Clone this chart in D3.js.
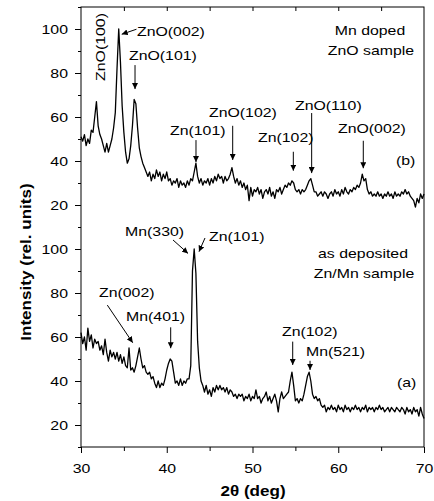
<!DOCTYPE html>
<html>
<head>
<meta charset="utf-8">
<script src="https://cdn.jsdelivr.net/npm/d3@7"></script>
<style>
  body { margin: 0; background: #fff; }
  text { font-family: "Liberation Sans", Arial, sans-serif; fill: #000; }
</style>
</head>
<body>
<svg id="chart"></svg>
<script>
// XRD scans, 2theta from 30 to 70 deg, one reading every 0.2 deg
const scanStart = 30;
const scanStep = 0.2;

// (b) Mn doped ZnO sample
const intensityB = [
  51, 49, 52, 47, 50, 48, 54, 53, 60, 67,
  56, 52, 50, 47, 44, 48, 44, 47, 50, 55,
  62, 82, 100, 85, 65, 53, 44, 39, 41, 47,
  56, 68, 66, 55, 46, 42, 39, 37, 35, 33,
  35, 31, 34, 32, 36, 33, 35, 31, 34, 32,
  35, 31, 32, 29, 31, 30, 32, 28, 31, 29,
  30, 28, 31, 29, 32, 31, 35, 39, 33, 30,
  32, 29, 31, 30, 32, 29, 32, 30, 33, 31,
  34, 32, 33, 30, 33, 31, 32, 34, 37, 33,
  30, 32, 29, 31, 28, 30, 27, 29, 22, 28,
  24, 27, 26, 28, 25, 27, 23, 26, 27, 25,
  28, 24, 26, 23, 27, 26, 28, 25, 27, 29,
  28, 30, 29, 31, 30, 27, 26, 27, 25, 27,
  26, 27, 29, 31, 32, 29, 26, 26, 24, 25,
  26, 24, 26, 25, 23, 25, 26, 24, 27, 25,
  26, 24, 27, 25, 28, 26, 25, 27, 26, 28,
  27, 29, 28, 30, 34, 31, 32, 27, 25, 26,
  24, 25, 24, 26, 24, 25, 23, 25, 24, 26,
  24, 25, 23, 26, 24, 25, 24, 26, 25, 27,
  25, 26, 24, 23, 22, 19, 23, 21, 25, 23,
  25
];

// (a) as deposited Zn/Mn sample
const intensityA = [
  62, 57, 60, 54, 64, 58, 61, 55, 59, 57,
  58, 54, 56, 52, 59, 53, 49, 54, 51, 53,
  50, 53, 49, 52, 48, 51, 47, 46, 55, 45,
  46, 44, 47, 51, 55, 50, 46, 47, 44, 43,
  44, 41, 42, 39, 37, 40, 37, 39, 38, 41,
  45, 48, 50, 49, 44, 39, 40, 38, 41, 38,
  40, 39, 41, 41, 47, 90, 100, 89, 58, 46,
  40, 38, 35, 38, 34, 36, 33, 37, 35, 38,
  36, 38, 36, 37, 35, 37, 34, 36, 35, 33,
  34, 32, 34, 33, 34, 31, 33, 32, 34, 31,
  33, 32, 36, 32, 33, 30, 32, 33, 35, 31,
  33, 30, 32, 34, 31, 26, 32, 35, 32, 33,
  34, 35, 40, 44, 38, 31, 32, 30, 32, 31,
  34, 38, 42, 44, 40, 34, 32, 33, 31, 32,
  29, 28, 29, 26, 28, 27, 29, 27, 28, 26,
  29, 27, 28, 26, 29, 27, 28, 26, 28, 27,
  29, 27, 28, 26, 28, 27, 29, 26, 28, 27,
  28, 26, 28, 27, 29, 27, 28, 26, 27, 28,
  26, 28, 27, 26, 28, 27, 26, 28, 27, 25,
  28, 26, 27, 25, 28, 26, 27, 24, 28, 25,
  23
];

const xTicksMajor = [30, 40, 50, 60, 70];
const xTicksMinor = [35, 45, 55, 65];
const xTicksTop = [35, 40, 45, 50, 55, 60, 65];
const yTicksMajor = [20, 40, 60, 80, 100];
const yTicksMinor = [10, 30, 50, 70, 90, 110];

// peak labels: [text, arrow start deg, start value, arrow end deg, end value]
const peaksB = [
  ['ZnO(002)', 36.47, 99.9, 34.75, 97.6],
  ['ZnO(101)', 36.3, 83.6, 36.3, 72.7],
  ['Zn(101)', 43.41, 49.5, 43.41, 39.5],
  ['ZnO(102)', 47.69, 56, 47.69, 40.5],
  ['Zn(102)', 54.76, 44.2, 54.76, 35.6],
  ['ZnO(110)', 56.9, 61.8, 56.9, 34.5],
  ['ZnO(002)', 62.92, 49.2, 62.92, 36.7]
];
const peaksA = [
  ['Mn(330)', 40.73, 104.1, 42.48, 98],
  ['Zn(101)', 44.46, 105, 43.76, 98.8],
  ['Zn(002)', 33.07, 74.5, 36.03, 57.4],
  ['Mn(401)', 40.46, 64.4, 40.46, 54.9],
  ['Zn(102)', 54.69, 57.9, 54.69, 47.3],
  ['Mn(521)', 56.71, 49.2, 56.71, 45]
];

const width = 434;
const height = 501;
const stretch = 1.22;   // fonts in the picture are wide

const svg = d3.select('#chart').attr('width', width).attr('height', height);

const x = d3.scaleLinear().domain([30, 70]).range([81, 424]);
const yTop = d3.scaleLinear().domain([10, 110]).range([227, 7]);
const yBot = d3.scaleLinear().domain([10, 110]).range([447, 227]);

// arrow head
svg.append('defs').append('marker')
  .attr('id', 'head')
  .attr('viewBox', '0 0 10 10')
  .attr('refX', 10).attr('refY', 5)
  .attr('markerWidth', 6).attr('markerHeight', 6)
  .attr('markerUnits', 'userSpaceOnUse')
  .attr('orient', 'auto')
  .append('path').attr('d', 'M0,0L10,5L0,10z').attr('fill', '#000');

drawAxes();
drawTrace(intensityB, yTop);
drawTrace(intensityA, yBot);
drawArrows(peaksB, yTop);
drawArrows(peaksA, yBot);
drawTexts();

function drawTrace(values, y) {
  const line = d3.line()
    .x((d, i) => x(scanStart + i * scanStep))
    .y(d => y(d));
  svg.append('path')
    .datum(values)
    .attr('d', line)
    .attr('fill', 'none')
    .attr('stroke', '#000')
    .attr('stroke-width', 1.3)
    .attr('stroke-linejoin', 'round');
}

function drawArrows(peaks, y) {
  svg.append('g').selectAll('line')
    .data(peaks)
    .enter()
    .append('line')
    .attr('x1', d => x(d[1])).attr('y1', d => y(d[2]))
    .attr('x2', d => x(d[3])).attr('y2', d => y(d[4]))
    .attr('stroke', '#000')
    .attr('stroke-width', 1)
    .attr('marker-end', 'url(#head)');
}

function styleTicks(g) {
  g.select('.domain').remove();
  g.selectAll('line').attr('stroke', '#000');
}

function drawAxes() {
  [yTop, yBot].forEach(y => {
    const major = svg.append('g').attr('transform', translate(81, 0))
      .call(d3.axisLeft(y).tickValues(yTicksMajor).tickSize(6).tickPadding(7));
    styleTicks(major);
    major.selectAll('text')
      .attr('font-size', 13)
      .attr('font-family', null)
      .attr('transform', 'translate(-13,0) scale(' + stretch + ',1)')
      .attr('x', 0);

    const minor = svg.append('g').attr('transform', translate(81, 0))
      .call(d3.axisLeft(y).tickValues(yTicksMinor).tickSize(3).tickFormat(''));
    styleTicks(minor);
  });

  const bottom = svg.append('g').attr('transform', translate(0, 447))
    .call(d3.axisBottom(x).tickValues(xTicksMajor).tickSize(6));
  styleTicks(bottom);
  bottom.selectAll('text')
    .attr('font-size', 13)
    .attr('font-family', null)
    .attr('y', 0).attr('dy', 0)
    .attr('transform', 'translate(0,26) scale(' + stretch + ',1)');

  const bottomMinor = svg.append('g').attr('transform', translate(0, 447))
    .call(d3.axisBottom(x).tickValues(xTicksMinor).tickSize(4).tickFormat(''));
  styleTicks(bottomMinor);

  const top = svg.append('g').attr('transform', translate(0, 7))
    .call(d3.axisBottom(x).tickValues(xTicksTop).tickSize(4).tickFormat(''));
  styleTicks(top);

  // frame
  svg.append('rect')
    .attr('x', x(30)).attr('y', 7)
    .attr('width', x(70) - x(30)).attr('height', yBot(10) - 7)
    .attr('fill', 'none').attr('stroke', '#000').attr('stroke-width', 1);
}

function label(str, px, py, anchor) {
  return svg.append('text')
    .attr('transform', translate(px, py) + ' scale(' + stretch + ',1)')
    .attr('text-anchor', anchor || 'start')
    .attr('font-size', 13)
    .text(str);
}

function drawTexts() {
  // upper panel
  label(peaksB[0][0], 137, 36);
  label(peaksB[1][0], 129, 60);
  label(peaksB[2][0], 170, 135);
  label(peaksB[3][0], 209, 117);
  label(peaksB[4][0], 258, 142);
  label(peaksB[5][0], 295, 110);
  label(peaksB[6][0], 338, 133);
  label('(b)', 396, 165);
  label('Mn doped', 370, 35, 'middle');
  label('ZnO sample', 371, 55, 'middle');

  svg.append('text')
    .attr('transform', translate(105, 47) + ' rotate(-90) scale(' + stretch + ',1)')
    .attr('text-anchor', 'middle')
    .attr('font-size', 13)
    .text('ZnO(100)');

  // lower panel
  label(peaksA[0][0], 125, 236);
  label(peaksA[1][0], 209, 241);
  label(peaksA[2][0], 99, 297);
  label(peaksA[3][0], 126, 321);
  label(peaksA[4][0], 282, 336);
  label(peaksA[5][0], 306, 356);
  label('(a)', 397, 387);
  label('as deposited', 363, 258, 'middle');
  label('Zn/Mn sample', 364, 278, 'middle');

  // axis titles
  svg.append('text')
    .attr('transform', translate(31, 262) + ' rotate(-90) scale(' + stretch + ',1)')
    .attr('text-anchor', 'middle')
    .attr('font-size', 14)
    .attr('font-weight', 'bold')
    .text('Intensity (rel. units)');

  label('2\u03b8 (deg)', 253, 496, 'middle')
    .attr('font-size', 14)
    .attr('font-weight', 'bold');
}

function translate(tx, ty) {
  return 'translate(' + String(tx) + ',' + String(ty) + ')';
}
</script>
</body>
</html>
